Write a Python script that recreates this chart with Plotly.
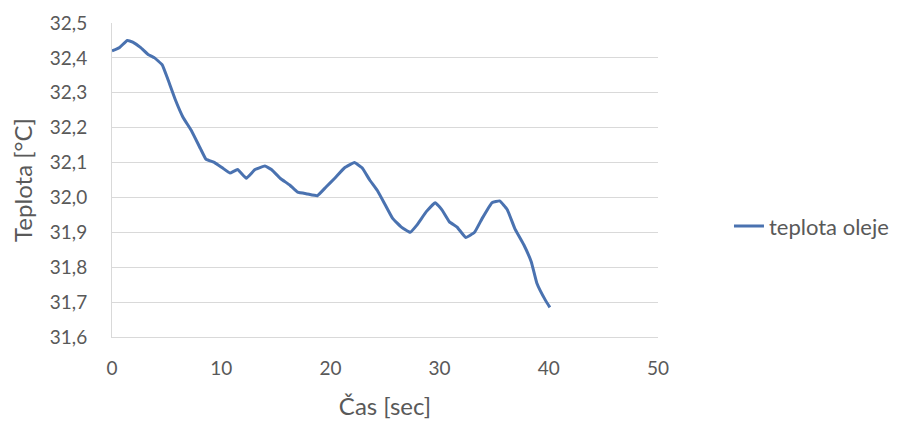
import plotly.graph_objects as go

cas = [0, 0.7, 1.4, 1.9, 2.6, 3.3, 3.9, 4.6, 5.1, 5.8, 6.5, 7.3, 8.1, 8.6, 9.4, 10.1, 10.8, 11.5,
       12.3, 13.1, 14.0, 14.6, 15.4, 16.3, 17.0, 17.9, 18.8, 19.6, 20.4, 21.3, 22.2, 22.9, 23.6,
       24.3, 25.0, 25.7, 26.5, 27.3, 27.9, 28.8, 29.6, 30.2, 30.9, 31.6, 32.4, 33.2, 33.9, 34.8,
       35.5, 36.2, 36.9, 37.7, 38.4, 38.9, 39.7, 40.1]
teplota = [32.42, 32.43, 32.45, 32.445, 32.43, 32.41, 32.40, 32.38, 32.34, 32.28, 32.23, 32.19,
           32.14, 32.11, 32.10, 32.085, 32.07, 32.08, 32.055, 32.08, 32.09, 32.08, 32.055, 32.035,
           32.015, 32.01, 32.005, 32.03, 32.055, 32.085, 32.10, 32.085, 32.05, 32.02, 31.98, 31.94,
           31.915, 31.90, 31.92, 31.96, 31.985, 31.965, 31.93, 31.915, 31.885, 31.90, 31.94, 31.985,
           31.99, 31.965, 31.91, 31.865, 31.815, 31.755, 31.705, 31.685]

x_ticks = [0, 10, 20, 30, 40, 50]
y_ticks = [31.6, 31.7, 31.8, 31.9, 32.0, 32.1, 32.2, 32.3, 32.4, 32.5]

font_family = "Lato, 'Open Sans', sans-serif"
grey = "#595959"

fig = go.Figure()
fig.add_trace(go.Scatter(
    x=cas, y=teplota, mode="lines", name="teplota oleje",
    line=dict(color="#4a72b0", width=3, shape="spline", smoothing=0.3),
))

fig.update_layout(
    width=900, height=421,
    margin=dict(l=104, r=250, t=15, b=92),
    paper_bgcolor="white", plot_bgcolor="white",
    separators=", ",
    font=dict(family=font_family, color=grey, size=19),
    showlegend=True,
    legend=dict(x=1.13, y=0.353, xanchor="left", yanchor="middle",
                font=dict(size=22, color=grey), bgcolor="rgba(0,0,0,0)"),
    xaxis=dict(
        range=[0, 50], tickvals=x_ticks, showgrid=False, zeroline=False,
        showline=True, linecolor="#d9d9d9", linewidth=1, automargin=False,
        ticks="", tickfont=dict(size=19, color=grey), ticklabelstandoff=14,
        title=dict(text="Čas [sec]", font=dict(size=24, color=grey), standoff=20),
    ),
    yaxis=dict(
        range=[31.6, 32.5], tickvals=y_ticks, tickformat=".1f",
        showgrid=True, gridcolor="#d9d9d9", gridwidth=1, zeroline=False,
        showline=True, linecolor="#d9d9d9", linewidth=1, automargin=False,
        ticks="", tickfont=dict(size=19, color=grey), ticklabelstandoff=20,
        title=dict(text="Teplota [°C]", font=dict(size=24, color=grey), standoff=14),
    ),
)

fig.write_html("out.html")
